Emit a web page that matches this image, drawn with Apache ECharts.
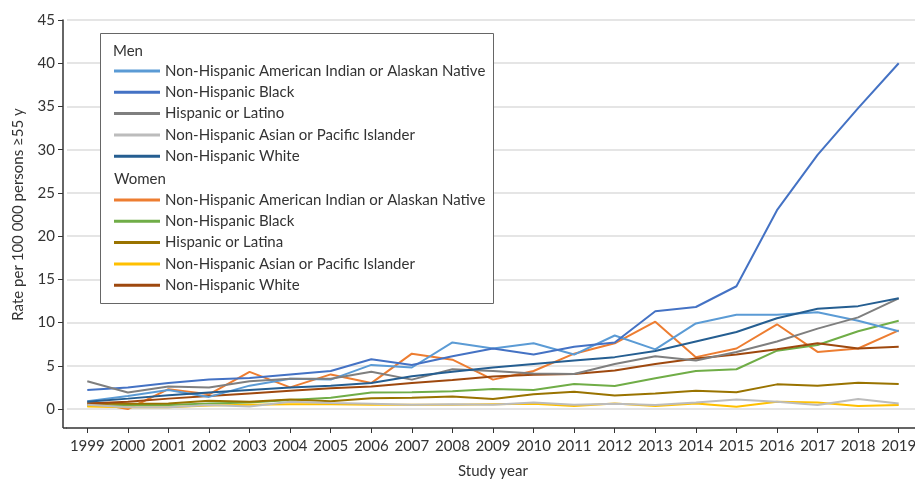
<!DOCTYPE html>
<html>
<head>
<meta charset="utf-8">
<title>Rate per 100 000 persons</title>
<script src="https://cdn.jsdelivr.net/npm/echarts@6/dist/echarts.min.js"></script>
<style>
    html, body { margin: 0; padding: 0; background: #fff; }
    #chart { width: 915px; height: 480px; }
</style>
</head>
<body>
<div id="chart"></div>
<script>
//横轴年份
var years = ['1999','2000','2001','2002','2003','2004','2005','2006','2007','2008','2009',
    '2010','2011','2012','2013','2014','2015','2016','2017','2018','2019'];

//图例名称
var menNames = ['Non-Hispanic American Indian or Alaskan Native', 'Non-Hispanic Black',
    'Hispanic or Latino', 'Non-Hispanic Asian or Pacific Islander', 'Non-Hispanic White'];
var womenNames = ['Non-Hispanic American Indian or Alaskan Native', 'Non-Hispanic Black',
    'Hispanic or Latina', 'Non-Hispanic Asian or Pacific Islander', 'Non-Hispanic White'];

//男性
var menAIAN     = [0.9, 1.5, 2.2, 1.4, 2.7, 3.5, 3.4, 5.1, 4.8, 7.7, 7.0, 7.6, 6.3, 8.5, 6.9, 9.9, 10.9, 10.9, 11.2, 10.2, 9.0];
var menBlack    = [2.2, 2.5, 3.0, 3.4, 3.6, 4.0, 4.4, 5.75, 5.1, 6.1, 7.0, 6.3, 7.2, 7.7, 11.3, 11.8, 14.2, 23.0, 29.4, 34.8, 40.0];
var menHisp     = [3.2, 1.9, 2.6, 2.5, 3.2, 3.5, 3.5, 4.3, 3.4, 4.6, 4.4, 4.1, 4.05, 5.2, 6.1, 5.6, 6.6, 7.8, 9.3, 10.6, 12.8];
var menAsian    = [0.5, 0.2, 0.2, 0.45, 0.3, 0.85, 0.7, 0.6, 0.5, 0.55, 0.5, 0.75, 0.5, 0.6, 0.45, 0.75, 1.1, 0.85, 0.45, 1.15, 0.65];
var menWhite    = [0.85, 1.2, 1.6, 1.9, 2.2, 2.5, 2.7, 3.0, 3.8, 4.3, 4.8, 5.2, 5.6, 6.0, 6.7, 7.8, 8.9, 10.5, 11.6, 11.9, 12.8];

//女性
var womenAIAN   = [0.85, 0.0, 2.3, 1.7, 4.3, 2.5, 4.0, 3.0, 6.4, 5.7, 3.4, 4.4, 6.4, 7.6, 10.1, 6.0, 7.0, 9.8, 6.6, 7.0, 9.1];
var womenBlack  = [0.35, 0.45, 0.45, 0.65, 0.75, 1.05, 1.3, 1.9, 1.95, 2.05, 2.3, 2.2, 2.9, 2.65, 3.55, 4.4, 4.6, 6.75, 7.4, 9.0, 10.2];
var womenHisp   = [0.6, 0.6, 0.65, 0.95, 0.85, 1.1, 0.9, 1.25, 1.3, 1.45, 1.15, 1.7, 2.0, 1.55, 1.8, 2.1, 1.95, 2.85, 2.7, 3.05, 2.9];
var womenAsian  = [0.3, 0.2, 0.2, 0.4, 0.5, 0.55, 0.55, 0.5, 0.5, 0.5, 0.55, 0.6, 0.35, 0.65, 0.35, 0.65, 0.25, 0.85, 0.75, 0.35, 0.45];
var womenWhite  = [0.65, 0.85, 1.2, 1.5, 1.8, 2.1, 2.4, 2.6, 3.0, 3.35, 3.75, 3.95, 4.05, 4.45, 5.2, 5.85, 6.3, 6.9, 7.6, 7.0, 7.2];

var menColors   = ['#5b9bd5', '#4472c4', '#7f7f7f', '#bcbcbc', '#255e91'];
var womenColors = ['#ed7d31', '#70ad47', '#997300', '#ffc000', '#9e480e'];

var fontName = 'Lato';
var fontSize = 15;

var myChart = echarts.init(document.getElementById('chart'));

var menData = [menAIAN, menBlack, menHisp, menAsian, menWhite];
var womenData = [womenAIAN, womenBlack, womenHisp, womenAsian, womenWhite];

var series = [];
function addLine(name, data, color){
    series.push({
        name: name,
        type: 'line',
        data: data,
        symbol: 'none',
        smooth: false,
        lineStyle: { width: 2, color: color },
        itemStyle: { color: color }
    });
}
// 女性先画，男性在上层
for(var i = 0; i < womenData.length; i++){
    addLine('w' + i, womenData[i], womenColors[i]);
}
for(var j = 0; j < menData.length; j++){
    addLine('m' + j, menData[j], menColors[j]);
}

//图例公共样式
function legendOf(prefix, names, top){
    var data = [];
    for(var k = 0; k < names.length; k++){
        data.push({ name: prefix + k });
    }
    return {
        show: true,
        z: 10,
        orient: 'vertical',
        left: 114,
        top: top,
        data: data,
        icon: 'rect',
        itemWidth: 46,
        itemHeight: 3,
        itemGap: 5.3,
        padding: 0,
        formatter: function(n){ return names[parseInt(n.substr(1))]; },
        textStyle: {
            color: '#333',
            fontSize: fontSize,
            fontFamily: fontName,
            lineHeight: 16
        }
    };
}

var option = {
    backgroundColor: '#fff',
    animation: false,
    textStyle: { fontFamily: fontName },
    grid: {
        left: 67,
        width: 852,
        top: 20,
        bottom: 71,
        containLabel: false,
        outerBoundsMode: 'none'
    },
    legend: [
        legendOf('m', menNames, 63),
        legendOf('w', womenNames, 192)
    ],
    xAxis: {
        type: 'category',
        data: years,
        offset: 19,
        boundaryGap: true,
        name: 'Study year',
        nameLocation: 'middle',
        nameGap: 36,
        nameTextStyle: { color: '#333', fontSize: fontSize, fontFamily: fontName },
        axisLine: { show: true, onZero: false, lineStyle: { color: '#333', width: 1.5 } },
        axisTick: { show: true, alignWithLabel: true, interval: 0, length: 5, lineStyle: { color: '#333' } },
        axisLabel: { color: '#333', fontSize: fontSize, margin: 11, interval: 0, fontFamily: fontName },
        splitLine: { show: false }
    },
    yAxis: {
        type: 'value',
        min: 0,
        max: 45,
        interval: 5,
        offset: 4,
        name: 'Rate per 100 000 persons \u226555 y',
        nameLocation: 'middle',
        nameGap: 37,
        nameTextStyle: { color: '#333', fontSize: fontSize, fontFamily: fontName },
        axisLine: { show: true, lineStyle: { color: '#333', width: 1.5 } },
        axisTick: { show: true, length: 5, lineStyle: { color: '#333' } },
        axisLabel: { color: '#333', fontSize: fontSize, margin: 8, fontFamily: fontName },
        splitLine: { show: true, lineStyle: { color: '#dcdcdc', width: 1.5 } }
    },
    graphic: [
        //y轴延长到x轴
        { type: 'line', shape: { x1: 63, y1: 409, x2: 63, y2: 428 }, style: { stroke: '#333', lineWidth: 1.5 }, z: 10 },
        { type: 'line', shape: { x1: 63, y1: 428, x2: 67, y2: 428 }, style: { stroke: '#333', lineWidth: 1.5 }, z: 10 },
        //图例边框
        { type: 'rect', shape: { x: 100.5, y: 33.5, width: 393, height: 270 }, style: { fill: '#fff', stroke: '#666', lineWidth: 1 }, z: 3 },
        { type: 'text', left: 113, top: 44, style: { text: 'Men', fill: '#333', font: fontSize + 'px ' + fontName }, z: 6 },
        { type: 'text', left: 114, top: 172, style: { text: 'Women', fill: '#333', font: fontSize + 'px ' + fontName }, z: 6 }
    ],
    series: series
};
myChart.setOption(option);
</script>
</body>
</html>
